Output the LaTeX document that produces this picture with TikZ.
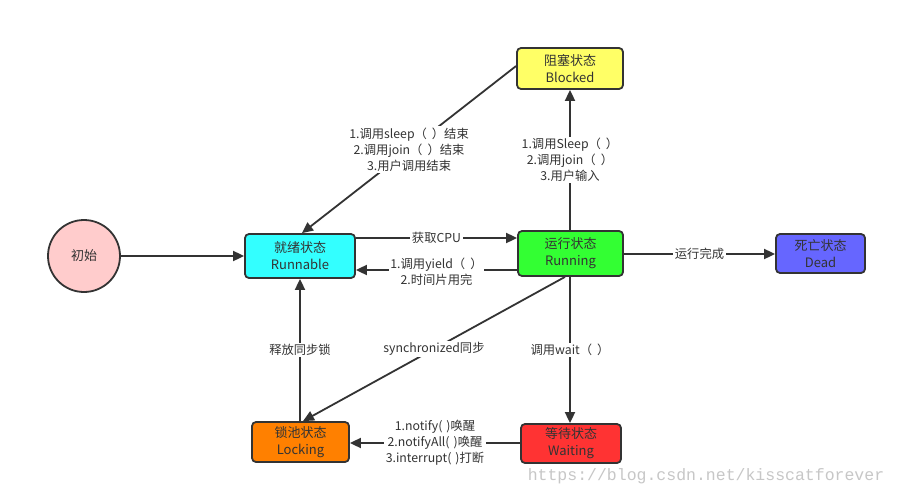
\documentclass[tikz,border=0pt]{standalone}
\usepackage{fontspec}
\setmainfont{Noto Sans CJK SC}
\newfontfamily\wmfont{Liberation Mono}
\usetikzlibrary{arrows.meta}
\definecolor{edgec}{HTML}{333333}
\newcommand{\pgap}{\hspace{5pt}}
\newcommand{\ngap}{\hspace{4pt}}
\tikzset{
  st/.style={draw=edgec, line width=1.8pt, rounded corners=4pt, align=center, text=edgec,
     font=\fontsize{13}{17}\selectfont, inner sep=0pt},
  conn/.style={draw=edgec, line width=1.8pt, -{Triangle[length=11pt,width=10pt]}},
  lbl/.style={fill=white, text=edgec, align=center, inner sep=1.5pt, font=\fontsize{12.3}{16}\selectfont}
}
\begin{document}
\begin{tikzpicture}[x=1pt,y=-1pt]
\useasboundingbox[fill=white] (0,0) rectangle (897,495);
\node[circle, draw=edgec, line width=1.8pt, fill={rgb,255:red,255;green,204;blue,204}, minimum size=72pt, text=edgec, font=\fontsize{13}{17}\selectfont, inner sep=0pt] (init) at (84,256) {初始};
\node[st, fill={rgb,255:red,51;green,255;blue,255}, minimum width=110pt, minimum height=44pt] (rb) at (300,256) {就绪状态\\Runnable};
\node[st, fill={rgb,255:red,51;green,255;blue,51}, minimum width=105pt, minimum height=45pt] (rn) at (570.5,253.5) {运行状态\\Running};
\node[st, fill={rgb,255:red,255;green,255;blue,102}, minimum width=106pt, minimum height=41pt] (bl) at (570,68.5) {阻塞状态\\Blocked};
\node[st, fill={rgb,255:red,102;green,102;blue,255}, minimum width=89pt, minimum height=39pt] (dd) at (820.5,253.5) {死亡状态\\Dead};
\node[st, fill={rgb,255:red,255;green,128;blue,0}, minimum width=97pt, minimum height=40pt] (lk) at (300.5,442) {锁池状态\\Locking};
\node[st, fill={rgb,255:red,255;green,51;blue,51}, minimum width=100pt, minimum height=39pt] (wt) at (571,443.5) {等待状态\\Waiting};

\draw[conn] (init) -- (rb.west |- init);
\draw[conn] (rb.east |- 0,238) -- node[lbl]{获取CPU} (rn.west |- 0,238);
\draw[conn] (rn.west |- 0,270) -- node[lbl, yshift=-2pt]{1.调用yield（\pgap）\\2.时间片用完} (rb.east |- 0,270);
\draw[conn] (bl.west |- 0,66) -- node[lbl]{1.调用sleep（\pgap）结束\\2.调用join（\pgap）结束\\3.用户调用结束} (rb.north -| 302,0);
\draw[conn] (rn.north -| 570,0) -- node[lbl]{1.调用Sleep（\pgap）\\2.调用join（\pgap）\\3.用户输入} (bl.south -| 570,0);
\draw[conn] (rn.east |- 0,254) -- node[lbl]{运行完成} (dd.west |- 0,254);
\draw[conn] (rn.south -| 565,0) -- node[lbl]{synchronized同步} (lk.north -| 303,0);
\draw[conn] (rn.south -| 570,0) -- node[lbl]{调用wait（\pgap）} (wt.north -| 570,0);
\draw[conn] (lk.north -| 300,0) -- node[lbl]{释放同步锁} (rb.south -| 300,0);
\draw[conn] (wt.west |- 0,443) -- node[lbl]{1.notify(\ngap)唤醒\\2.notifyAll(\ngap)唤醒\\3.interrupt(\ngap)打断} (lk.east |- 0,443);

\node[text=black!22, font=\wmfont\fontsize{16.5}{18}\selectfont, inner sep=0pt] (wm) at (706,476) {https://blog.csdn.net/kisscatforever};
\end{tikzpicture}
\end{document}
